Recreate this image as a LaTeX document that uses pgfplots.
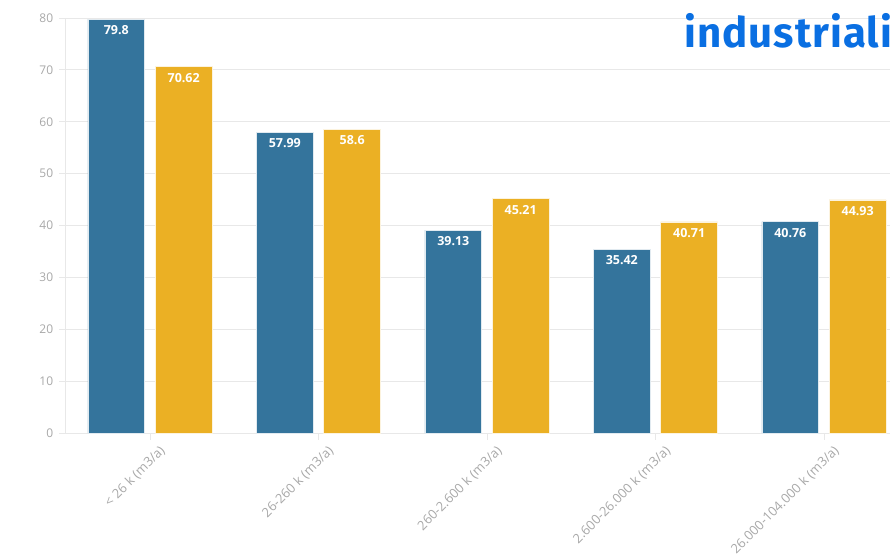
\documentclass[border=0pt]{standalone}
\usepackage{pgfplots}
\pgfplotsset{compat=1.18}
\usepackage{fontspec}
\setmainfont{Open Sans}
\newfontfamily\titlefont[LetterSpace=2.5]{Fira Sans}
\definecolor{barblue}{HTML}{34749C}
\definecolor{barorange}{HTML}{EBB024}
\definecolor{gridc}{HTML}{E8E8E8}
\definecolor{tickc}{HTML}{A8A8A8}
\definecolor{titleblue}{HTML}{0A6FE2}
\begin{document}
\begin{tikzpicture}[x=1pt,y=1pt]
\useasboundingbox (0,0) rectangle (890,555);
\clip (0,0) rectangle (890,555);
\begin{axis}[
  at={(65.75pt,122pt)}, anchor=south west,
  scale only axis,
  width=842.5pt, height=415pt,
  xmin=-0.5, xmax=4.5,
  ymin=0, ymax=80,
  ytick={0,10,...,80},
  xtick={0,1,2,3,4},
  xticklabels={{< 26 k (m3/a)},{26-260 k (m3/a)},{260-2.600 k (m3/a)},{2.600-26.000 k (m3/a)},{26.000-104.000 k (m3/a)}},
  x tick label style={rotate=45, anchor=north east, font=\fontsize{13}{15}\selectfont, text=tickc, inner sep=2pt, xshift=5pt, yshift=-7pt},
  y tick label style={font=\fontsize{12}{14}\selectfont, text=tickc, xshift=-2pt},
  /pgf/number format/assume math mode=true,
  ymajorgrids, grid style={gridc, line width=0.8pt},
  axis line style={gridc, line width=0.8pt},
  axis x line*=bottom, axis y line*=left,
  tick align=outside,
  major tick length=7pt,
  tick style={gridc, line width=0.8pt},
  ybar, bar width=0.338,
  nodes near coords,
  every node near coord/.append style={anchor=north, text=white, font=\bfseries\fontsize{12.5}{14}\selectfont, yshift=-3pt},
  clip=false,
]
\addplot[fill=barblue, draw=white!85!barblue, line width=0.6pt, bar shift=-0.2] coordinates {(0,79.8) (1,57.99) (2,39.13) (3,35.42) (4,40.76)};
\addplot[fill=barorange, draw=white!85!barorange, line width=0.6pt, bar shift=0.2] coordinates {(0,70.62) (1,58.6) (2,45.21) (3,40.71) (4,44.93)};
\end{axis}
\node[anchor=base west, inner sep=0pt, text=titleblue, font=\titlefont\bfseries\fontsize{42}{48}\selectfont] at (684,507) {industrialisation};
\end{tikzpicture}
\end{document}
